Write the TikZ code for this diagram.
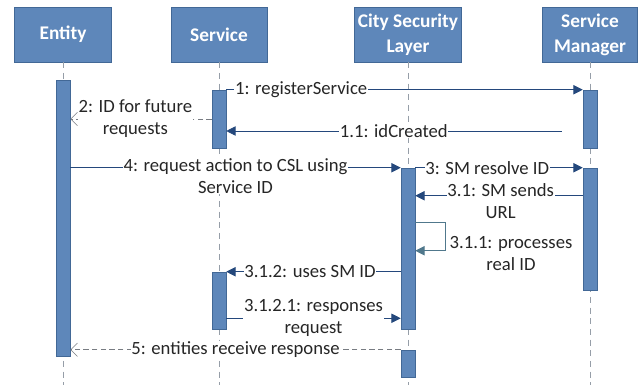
\documentclass[tikz,border=0pt]{standalone}
\usepackage{fontspec}
\setmainfont{Carlito}
\usetikzlibrary{arrows.meta}
\definecolor{boxblue}{RGB}{94,135,186}
\definecolor{boxedge}{RGB}{66,104,150}
\definecolor{msgblue}{RGB}{36,72,124}
\definecolor{lifegray}{RGB}{150,158,168}
\definecolor{retgray}{RGB}{120,124,130}
\definecolor{loopteal}{RGB}{80,120,140}
\definecolor{txtgray}{RGB}{38,38,38}
\begin{document}
\begin{tikzpicture}[
    x=0.75pt, y=-0.75pt,
    actor/.style={rectangle, draw=boxedge, fill=boxblue, text=white, minimum height=41.25pt, align=center, inner sep=1pt, font=\fontsize{14.5}{18.75}\selectfont\bfseries},
    bar/.style={rectangle, draw=boxedge, fill=boxblue, minimum width=10.5pt, inner sep=0pt},
    life/.style={draw=lifegray, dash pattern=on 4.5pt off 3.5pt, line width=0.6pt},
    msg/.style={draw=msgblue, line width=0.6pt, -{Triangle[length=7pt,width=7pt]}},
    ret/.style={draw=retgray, line width=0.5pt, dash pattern=on 4pt off 2.5pt, -{Straight Barb[length=5pt,width=10pt]}},
    selfmsg/.style={draw=loopteal, line width=0.6pt, -{Triangle[length=7pt,width=7pt]}},
    lbl/.style={fill=white, text=txtgray, align=center, inner sep=0.5pt, font=\fontsize{14}{16.5}\selectfont}
]
\fill[white] (0,0) rectangle (641,385);
\useasboundingbox (0,0) rectangle (641,385);
\coordinate (bot) at (0,385);

% Lifelines
\node[actor, minimum width=72.75pt] (ent) at (63,34.5) {Entity};
\node[actor, minimum width=72pt] (srv) at (219,34.5) {Service};
\node[actor, minimum width=80.25pt] (csl) at (408,34.5) {City Security\\Layer};
\node[actor, minimum width=71.25pt] (smg) at (590,34.5) {Service\\Manager};

\draw[life] (ent.south) -- (ent.south |- bot);
\draw[life] (srv.south) -- (srv.south |- bot);
\draw[life] (csl.south) -- (csl.south |- bot);
\draw[life] (smg.south) -- (smg.south |- bot);

% Activations
\node[bar, minimum height=207pt] (e1) at (63,218) {};
\node[bar, minimum height=43.5pt] (sv1) at (219,119) {};
\node[bar, minimum height=43.5pt] (sm1) at (590,119) {};
\node[bar, minimum height=120.75pt] (cs1) at (408,248.5) {};
\node[bar, minimum height=91.5pt] (sm2) at (590,229) {};
\node[bar, minimum height=42.75pt] (sv2) at (219,300.5) {};
\node[bar, minimum height=20.25pt] (cs2) at (408,363.5) {};

% Message levels
\coordinate (m11) at ([yshift=-9pt]sm1.west);
\coordinate (m31) at ([yshift=-21pt]sm2.north west);
\coordinate (m311) at ([yshift=-41.25pt]cs1.north east);
\coordinate (m3121) at ([yshift=8.25pt]sv2.south east);

% Messages
\draw[msg] (sv1.north east) -- node[lbl, pos=0.21] {1: registerService} (sm1.north west);
\draw[ret] (sv1.west) -- node[lbl, pos=0.54] {2: ID for future\\requests} (e1.east |- sv1.west);
\draw[msg, shorten <=15.75pt] (m11) -- node[lbl, pos=0.53] {1.1: idCreated} (sv1.east |- m11);
\draw[msg] (e1.east |- cs1.north west) -- node[lbl, pos=0.5, anchor=north, yshift=8pt] {4: request action to CSL using\\Service ID} (cs1.north west);
\draw[msg] (cs1.north east) -- node[lbl, pos=0.43] {3: SM resolve ID} (sm2.north west);
\draw[msg] (m31) -- node[lbl, pos=0.49, anchor=north, yshift=10pt] {3.1: SM sends\\URL} (cs1.east |- m31);
\draw[selfmsg] (m311) -- ++(30,0) -- ++(0,28) -- ++(-30,0);
\node[lbl] (l311) at (511,254) {3.1.1: processes\\real ID};
\draw[msg] (cs1.west |- sv2.north east) -- node[lbl, pos=0.52] {3.1.2: uses SM ID} (sv2.north east);
\draw[msg] (m3121) -- node[lbl, pos=0.5] {3.1.2.1: responses\\request} (cs1.west |- m3121);
\draw[ret] (cs2.north west) -- node[lbl, pos=0.5] {5: entities receive response} (e1.east |- cs2.north west);
\end{tikzpicture}
\end{document}
